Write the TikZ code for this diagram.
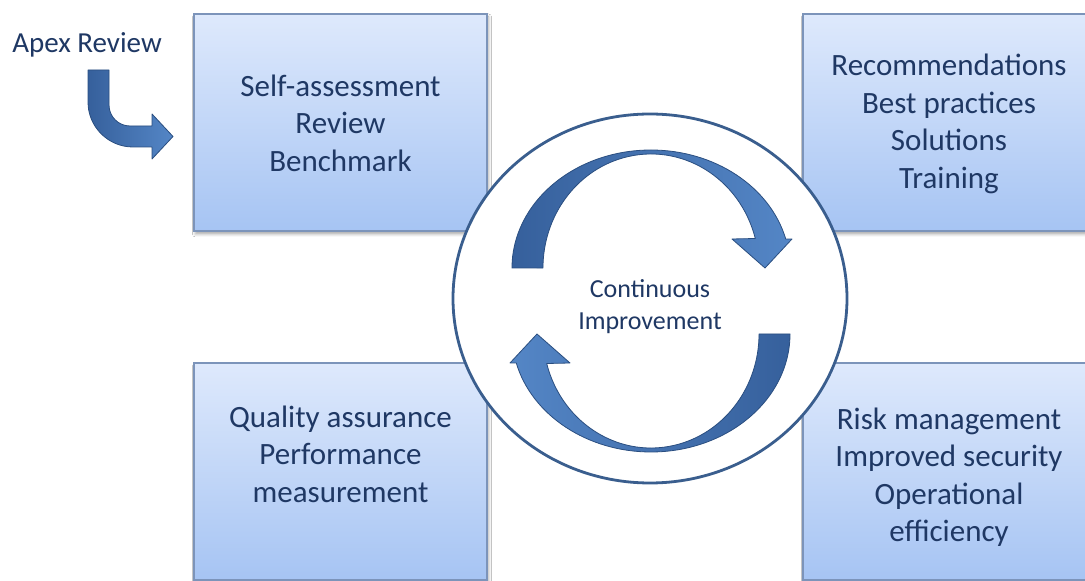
\documentclass[tikz,border=0pt]{standalone}
\usepackage{fontspec}
\setmainfont{Carlito}
\usetikzlibrary{shadows.blur}
\definecolor{boxtop}{RGB}{222,233,252}
\definecolor{boxbot}{RGB}{166,196,243}
\definecolor{boxline}{RGB}{124,148,186}
\definecolor{txt}{RGB}{31,56,100}
\definecolor{ringline}{RGB}{58,94,142}
\definecolor{arrdark}{RGB}{54,96,156}
\definecolor{arrlight}{RGB}{84,134,198}
\definecolor{arredge}{RGB}{42,78,128}
\tikzset{
  infobox/.style={draw=boxline, line width=1.2pt, top color=boxtop, bottom color=boxbot,
    blur shadow={shadow xshift=1.5pt, shadow yshift=-3pt, shadow blur radius=3pt, shadow opacity=35}},
  boxtext/.style={text=txt, align=center, font=\fontsize{31}{37.5}\selectfont},
  ringtext/.style={text=txt, align=center, font=\fontsize{26}{32}\selectfont},
  blockarrow/.style={draw=arredge, line width=0.8pt, line join=round},
}
\begin{document}
\begin{tikzpicture}[x=1pt,y=1pt]
\useasboundingbox (0,0) rectangle (1085,581);
\fill[white] (0,0) rectangle (1085,581);
\clip (0,0) rectangle (1085,581);

% boxes
\path[infobox] (194,350) rectangle (487,567);
\path[infobox] (803,350) rectangle (1097,567);
\path[infobox] (194,1) rectangle (487,218);
\path[infobox] (803,1) rectangle (1097,218);

\node[boxtext] (tl) at (340.5,458) {Self-assessment\\Review\\Benchmark};
\node[boxtext] (tr) at (949,457) {Recommendations\\Best practices\\Solutions\\Training};
\node[boxtext] (bl) at (340.5,127) {Quality assurance\\Performance\\measurement};
\node[boxtext] (br) at (949,104) {Risk management\\Improved security\\Operational\\efficiency};

% ring
\draw[ringline, line width=2.8pt, fill=white] (650,282.5) ellipse [x radius=197, y radius=184.5];

% circular arrows
\begin{scope}[shift={(651,280)}]
  \path[blockarrow, left color=arrdark, right color=arrlight]
    (-139,33) arc[start angle=180, end angle=14.2, x radius=139, y radius=118]
    -- (141,62) -- (114,33) -- (81,62) -- (104.3,62.5)
    arc[start angle=15, end angle=180, x radius=108, y radius=114] -- cycle;
  \begin{scope}[rotate=180]
  \path[blockarrow, left color=arrlight, right color=arrdark]
    (-139,33) arc[start angle=180, end angle=14.2, x radius=139, y radius=118]
    -- (141,62) -- (114,33) -- (81,62) -- (104.3,62.5)
    arc[start angle=15, end angle=180, x radius=108, y radius=114] -- cycle;
  \end{scope}
\end{scope}
\node[ringtext] (ci) at (650,274) {Continuous\\Improvement};

% apex review
\node[text=txt, font=\fontsize{29}{34}\selectfont] (apex) at (87,536) {Apex Review};
\path[blockarrow, left color=arrdark, right color=arrlight]
  (88,511) -- (109,511) -- (109,476) arc[start angle=180, end angle=270, radius=21]
  -- (152,455) -- (152,467) -- (173,444.5) -- (152,422) -- (152,434) -- (133,434)
  arc[start angle=270, end angle=180, radius=45] -- cycle;
\end{tikzpicture}
\end{document}
